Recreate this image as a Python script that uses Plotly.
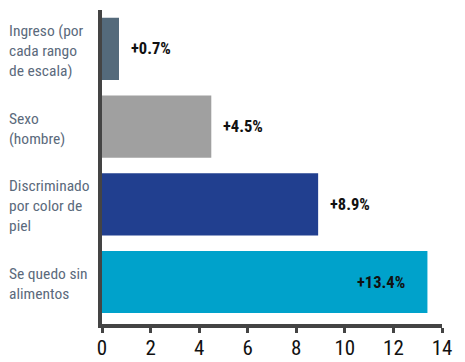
import plotly.graph_objects as go

categories = ["Ingreso (por<br>cada rango<br>de escala)", "Sexo<br>(hombre)",
              "Discriminado<br>por color de<br>piel", "Se quedo sin<br>alimentos"]
values = [0.7, 4.5, 8.9, 13.4]
value_labels = ["+0.7%", "+4.5%", "+8.9%", "+13.4%"]
colors = ["#546a7b", "#a0a0a0", "#213f8f", "#00a2cb"]
x_ticks = [0, 2, 4, 6, 8, 10, 12, 14]

ypos = list(range(len(categories)))

fig = go.Figure(go.Bar(
    x=values, y=ypos, orientation="h",
    marker=dict(color=colors, line=dict(width=0)),
    width=0.8, hoverinfo="skip",
))

narrow = "Roboto Condensed, Roboto, sans-serif"
ann = []
for i, (v, c, t) in enumerate(zip(values, categories, value_labels)):
    ann.append(dict(x=0, xref="paper", xshift=-95, y=i, yref="y", yshift=-2, text=c,
                    showarrow=False, xanchor="left", yanchor="middle", align="left",
                    font=dict(family=narrow, size=15.5, color="#5b6a7c")))
    inside = v > 12
    ann.append(dict(x=v, y=i, xref="x", yref="y", text="<b>" + t + "</b>", showarrow=False,
                    xanchor="right" if inside else "left", yanchor="middle",
                    xshift=-20 if inside else 10,
                    font=dict(family=narrow, size=16.5, color="#111111")))

fig.update_layout(
    width=465, height=362,
    margin=dict(l=102, r=23, t=10, b=38, autoexpand=False),
    paper_bgcolor="white", plot_bgcolor="white",
    showlegend=False,
    annotations=ann,
    xaxis=dict(range=[0, 14], tickvals=x_ticks, ticktext=[str(t) for t in x_ticks],
               automargin=False, ticklabelstandoff=-3,
               showgrid=False, zeroline=False, showline=True, linecolor="#444444",
               linewidth=4, ticks="outside", ticklen=5, tickwidth=3, tickcolor="#444444",
               tickfont=dict(family=narrow, size=21, color="#111111")),
    yaxis=dict(range=[3.54, -0.5], showticklabels=False, showgrid=False, zeroline=False,
               automargin=False,
               showline=True, linecolor="#444444", linewidth=4, ticks=""),
)

fig.write_html("out.html", config={"displayModeBar": False},
               post_script="document.body.style.margin='0';")
